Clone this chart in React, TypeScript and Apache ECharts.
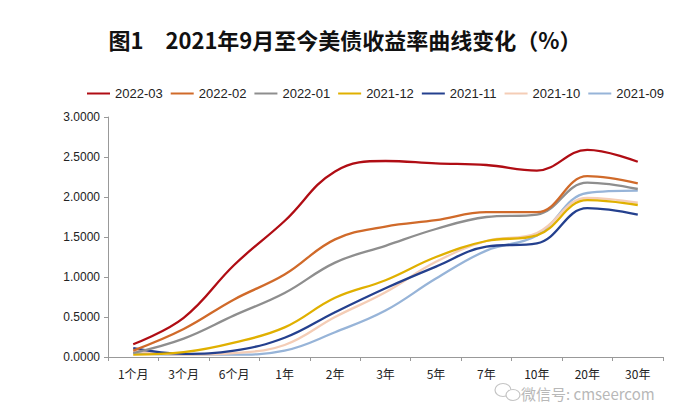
import React, { useEffect, useRef } from "react";
import * as echarts from "echarts";

const categories = ["1个月", "3个月", "6个月", "1年", "2年", "3年", "5年", "7年", "10年", "20年", "30年"];
const seriesNames = ["2022-03", "2022-02", "2022-01", "2021-12", "2021-11", "2021-10", "2021-09"];
const s202203 = [0.16, 0.49, 1.15, 1.70, 2.32, 2.45, 2.42, 2.40, 2.33, 2.59, 2.44];
const s202202 = [0.08, 0.35, 0.72, 1.03, 1.47, 1.63, 1.71, 1.81, 1.81, 2.26, 2.17];
const s202201 = [0.05, 0.23, 0.52, 0.80, 1.18, 1.39, 1.60, 1.75, 1.78, 2.18, 2.10];
const s202112 = [0.03, 0.06, 0.18, 0.37, 0.74, 0.96, 1.25, 1.45, 1.52, 1.96, 1.90];
const s202111 = [0.11, 0.04, 0.08, 0.24, 0.56, 0.86, 1.13, 1.38, 1.42, 1.86, 1.78];
const s202110 = [0.08, 0.03, 0.05, 0.15, 0.50, 0.81, 1.19, 1.45, 1.55, 1.99, 1.93];
const s202109 = [0.05, 0.03, 0.03, 0.08, 0.31, 0.58, 0.98, 1.33, 1.52, 2.05, 2.08];
const yTicks = [0, 0.5, 1.0, 1.5, 2.0, 2.5, 3.0];

const seriesData = [s202203, s202202, s202201, s202112, s202111, s202110, s202109];
const colors = ["#b00d14", "#d06a2a", "#8e8e8e", "#e0b000", "#24408e", "#f4cdb6", "#97b4d8"];

export default function App() {
  const ref = useRef<HTMLDivElement>(null);
  useEffect(() => {
    if (!ref.current) return;
    const chart = echarts.init(ref.current, null, { renderer: "svg" });
    chart.setOption({
      animation: false,
      backgroundColor: "#ffffff",
      title: {
        text: "图1　2021年9月至今美债收益率曲线变化（%）",
        left: "center",
        top: 23,
        textStyle: {
          fontFamily: "Noto Sans CJK SC",
          fontWeight: "bold",
          fontSize: 22,
          color: "#111",
        },
      },
      legend: {
        top: 82,
        left: 82,
        itemWidth: 23,
        itemHeight: 2,
        itemGap: 8,
        icon: "rect",
        textStyle: { fontFamily: "Liberation Sans, Arial", fontSize: 13, color: "#222" },
        data: seriesNames,
      },
      grid: { left: 108, right: 27, top: 117, bottom: 57 },
      xAxis: {
        type: "category",
        data: categories,
        boundaryGap: true,
        axisLine: { lineStyle: { color: "#999", width: 1 } },
        axisTick: { show: true, length: 4, lineStyle: { color: "#999" } },
        axisLabel: {
          margin: 10,
          fontFamily: "Noto Sans CJK SC",
          fontSize: 12,
          color: "#222",
        },
      },
      yAxis: {
        type: "value",
        min: yTicks[0],
        max: yTicks[yTicks.length - 1],
        interval: 0.5,
        splitLine: { show: false },
        axisLine: { show: true, lineStyle: { color: "#999" } },
        axisTick: { show: true, length: 4, lineStyle: { color: "#999" } },
        axisLabel: {
          margin: 8,
          fontFamily: "Liberation Sans, Arial",
          fontSize: 12,
          color: "#222",
          formatter: (v: number) => v.toFixed(4),
        },
      },
      series: seriesNames.map((name, i) => ({
        name,
        type: "line",
        data: seriesData[i],
        smooth: 0.4,
        showSymbol: false,
        symbol: "none",
        z: 10 - i,
        lineStyle: { color: colors[i], width: 2.3 },
        itemStyle: { color: colors[i] },
      })),
      graphic: [
        {
          type: "ellipse",
          shape: { cx: 503, cy: 390, rx: 8, ry: 6.5 },
          style: { fill: "none", stroke: "#c4c4c4", lineWidth: 1.2 },
        },
        {
          type: "ellipse",
          shape: { cx: 513, cy: 395, rx: 7, ry: 5.5 },
          style: { fill: "#fff", stroke: "#c4c4c4", lineWidth: 1.2 },
        },
        {
          type: "text",
          left: 521,
          top: 386,
          style: {
            text: "微信号: cmseercom",
            fontFamily: "Noto Sans CJK SC",
            fontSize: 15,
            fill: "#b8b8b8",
          },
        },
      ],
    });
    return () => chart.dispose();
  }, []);
  return <div ref={ref} style={{ width: 690, height: 414, position: "absolute", left: 0, top: 0 }} />;
}
